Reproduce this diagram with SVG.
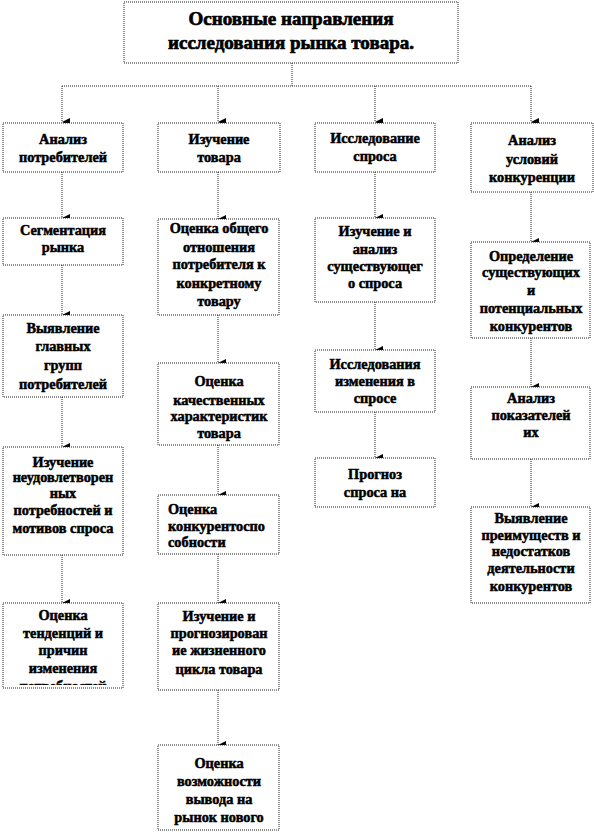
<svg xmlns="http://www.w3.org/2000/svg" width="594" height="834" viewBox="0 0 594 834">
<style>
.box{fill:#fff;stroke:#222;stroke-width:1;stroke-dasharray:1 1}
.t{font-family:"Liberation Serif","Times New Roman",serif;font-weight:bold;font-size:14.3px;fill:#000;stroke:#000;stroke-width:0.5;text-anchor:middle}
.tl{text-anchor:start}
.title{font-size:19px;stroke-width:0.7}
.c{fill:none;stroke:#222;stroke-width:1;stroke-dasharray:1 1}
</style>
<defs>
<marker id="ah" viewBox="0 0 8 8" refX="4" refY="8" markerWidth="8" markerHeight="8" markerUnits="userSpaceOnUse" orient="auto-start-reverse">
<path d="M0,0 L8,0 L4,8 Z" fill="#000"/>
</marker>
<clipPath id="clip1"><rect x="3" y="603" width="120" height="82"/></clipPath>
</defs>
<g id="connectors">
<path class="c" d="M292,63 V86 M62,86 H531"/>
<path class="c" d="M62,86 V122" marker-end="url(#ah)"/>
<path class="c" d="M218,86 V122" marker-end="url(#ah)"/>
<path class="c" d="M375,86 V122" marker-end="url(#ah)"/>
<path class="c" d="M531,86 V122" marker-end="url(#ah)"/>
<path class="c" d="M62,172 V218" marker-end="url(#ah)"/>
<path class="c" d="M62,265 V315" marker-end="url(#ah)"/>
<path class="c" d="M62,397 V447" marker-end="url(#ah)"/>
<path class="c" d="M62,555 V603" marker-end="url(#ah)"/>
<path class="c" d="M218,172 V219" marker-end="url(#ah)"/>
<path class="c" d="M218,315 V363" marker-end="url(#ah)"/>
<path class="c" d="M218,445 V495" marker-end="url(#ah)"/>
<path class="c" d="M218,554 V603" marker-end="url(#ah)"/>
<path class="c" d="M218,690 V745" marker-end="url(#ah)"/>
<path class="c" d="M375,172 V218" marker-end="url(#ah)"/>
<path class="c" d="M375,302 V350" marker-end="url(#ah)"/>
<path class="c" d="M375,412 V458" marker-end="url(#ah)"/>
<path class="c" d="M531,192 V242" marker-end="url(#ah)"/>
<path class="c" d="M531,338 V387" marker-end="url(#ah)"/>
<path class="c" d="M531,459 V507" marker-end="url(#ah)"/>
</g>
<g id="title">
<rect class="box" x="124" y="2" width="334" height="61"/>
<text class="t title" x="291" y="25">Основные направления</text>
<text class="t title" x="291" y="49">исследования рынка товара.</text>
</g>
<g id="c1h">
<rect class="box" x="3" y="123" width="120" height="49"/>
<text class="t" x="63" y="144">Анализ</text>
<text class="t" x="63" y="162">потребителей</text>
</g>
<g id="c1b1">
<rect class="box" x="3" y="218" width="120" height="47"/>
<text class="t" x="63" y="235">Сегментация</text>
<text class="t" x="63" y="252">рынка</text>
</g>
<g id="c1b2">
<rect class="box" x="3" y="315" width="120" height="82"/>
<text class="t" x="63" y="333">Выявление</text>
<text class="t" x="63" y="351">главных</text>
<text class="t" x="63" y="370">групп</text>
<text class="t" x="63" y="389">потребителей</text>
</g>
<g id="c1b3">
<rect class="box" x="3" y="447" width="120" height="108"/>
<text class="t" x="63" y="467">Изучение</text>
<text class="t" x="63" y="482">неудовлетворен</text>
<text class="t" x="63" y="498">ных</text>
<text class="t" x="63" y="515">потребностей и</text>
<text class="t" x="63" y="533">мотивов спроса</text>
</g>
<g id="c1b4">
<rect class="box" x="3" y="603" width="120" height="85"/>
<text class="t" x="63" y="620">Оценка</text>
<text class="t" x="63" y="638">тенденций и</text>
<text class="t" x="63" y="655">причин</text>
<text class="t" x="63" y="673">изменения</text>
<text class="t" x="63" y="691" clip-path="url(#clip1)">потребностей</text>
</g>
<g id="c2h">
<rect class="box" x="158" y="123" width="122" height="49"/>
<text class="t" x="219" y="144">Изучение</text>
<text class="t" x="219" y="162">товара</text>
</g>
<g id="c2b1">
<rect class="box" x="158" y="219" width="121" height="96"/>
<text class="t" x="219" y="233">Оценка общего</text>
<text class="t" x="219" y="252">отношения</text>
<text class="t" x="219" y="269">потребителя к</text>
<text class="t" x="219" y="288">конкретному</text>
<text class="t" x="219" y="306">товару</text>
</g>
<g id="c2b2">
<rect class="box" x="158" y="363" width="121" height="82"/>
<text class="t" x="219" y="386">Оценка</text>
<text class="t" x="219" y="405">качественных</text>
<text class="t" x="219" y="421">характеристик</text>
<text class="t" x="219" y="438">товара</text>
</g>
<g id="c2b3">
<rect class="box" x="158" y="495" width="121" height="59"/>
<text class="t tl" x="168" y="514">Оценка</text>
<text class="t tl" x="168" y="531">конкурентоспо</text>
<text class="t tl" x="168" y="547">собности</text>
</g>
<g id="c2b4">
<rect class="box" x="158" y="603" width="121" height="87"/>
<text class="t" x="219" y="621">Изучение и</text>
<text class="t" x="219" y="638">прогнозирован</text>
<text class="t" x="219" y="655">ие жизненного</text>
<text class="t" x="219" y="674">цикла товара</text>
</g>
<g id="c2b5">
<rect class="box" x="158" y="745" width="121" height="85"/>
<text class="t" x="219" y="768">Оценка</text>
<text class="t" x="219" y="786">возможности</text>
<text class="t" x="219" y="804">вывода на</text>
<text class="t" x="219" y="822">рынок нового</text>
</g>
<g id="c3h">
<rect class="box" x="315" y="123" width="120" height="49"/>
<text class="t" x="375" y="143">Исследование</text>
<text class="t" x="375" y="161">спроса</text>
</g>
<g id="c3b1">
<rect class="box" x="315" y="218" width="120" height="84"/>
<text class="t" x="375" y="236">Изучение и</text>
<text class="t" x="375" y="254">анализ</text>
<text class="t" x="375" y="271">существующег</text>
<text class="t" x="375" y="288">о спроса</text>
</g>
<g id="c3b2">
<rect class="box" x="315" y="350" width="120" height="62"/>
<text class="t" x="375" y="369">Исследования</text>
<text class="t" x="375" y="386">изменения в</text>
<text class="t" x="375" y="403">спросе</text>
</g>
<g id="c3b3">
<rect class="box" x="315" y="458" width="120" height="49"/>
<text class="t" x="375" y="479">Прогноз</text>
<text class="t" x="375" y="497">спроса на</text>
</g>
<g id="c4h">
<rect class="box" x="471" y="123" width="122" height="69"/>
<text class="t" x="532" y="145">Анализ</text>
<text class="t" x="532" y="164">условий</text>
<text class="t" x="532" y="182">конкуренции</text>
</g>
<g id="c4b1">
<rect class="box" x="471" y="242" width="119" height="96"/>
<text class="t" x="531" y="261">Определение</text>
<text class="t" x="531" y="277">существующих</text>
<text class="t" x="531" y="295">и</text>
<text class="t" x="531" y="313">потенциальных</text>
<text class="t" x="531" y="331">конкурентов</text>
</g>
<g id="c4b2">
<rect class="box" x="471" y="387" width="119" height="72"/>
<text class="t" x="531" y="403">Анализ</text>
<text class="t" x="531" y="420">показателей</text>
<text class="t" x="531" y="437">их</text>
</g>
<g id="c4b3">
<rect class="box" x="471" y="507" width="119" height="96"/>
<text class="t" x="531" y="523">Выявление</text>
<text class="t" x="531" y="540">преимуществ и</text>
<text class="t" x="531" y="556">недостатков</text>
<text class="t" x="531" y="573">деятельности</text>
<text class="t" x="531" y="591">конкурентов</text>
</g>
</svg>
